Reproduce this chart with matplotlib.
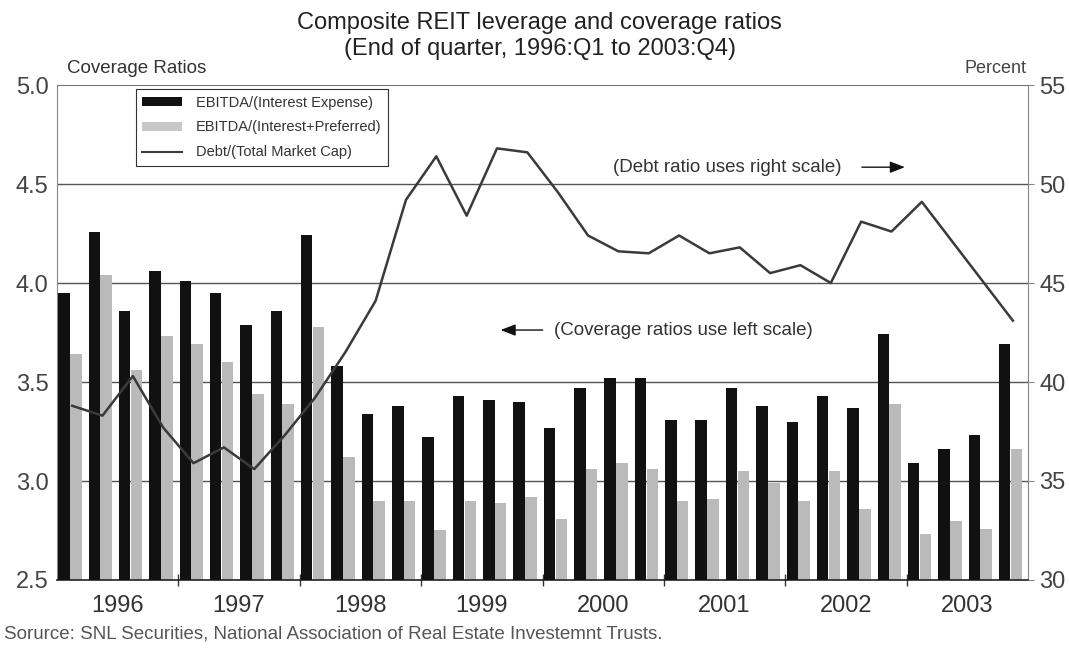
import matplotlib.pyplot as plt
from matplotlib.patches import Patch
from matplotlib.lines import Line2D
import numpy as np

plt.rcParams['font.family'] = ['Liberation Sans', 'DejaVu Sans']

# quarterly data, 1996:Q1 .. 2003:Q4
years = ['1996', '1997', '1998', '1999', '2000', '2001', '2002', '2003']
ebitda_interest = [3.95, 4.26, 3.86, 4.06, 4.01, 3.95, 3.79, 3.86,
                   4.24, 3.58, 3.34, 3.38, 3.22, 3.43, 3.41, 3.40,
                   3.27, 3.47, 3.52, 3.52, 3.31, 3.31, 3.47, 3.38,
                   3.30, 3.43, 3.37, 3.74, 3.09, 3.16, 3.23, 3.69]
ebitda_int_pref = [3.64, 4.04, 3.56, 3.73, 3.69, 3.60, 3.44, 3.39,
                   3.78, 3.12, 2.90, 2.90, 2.75, 2.90, 2.89, 2.92,
                   2.81, 3.06, 3.09, 3.06, 2.90, 2.91, 3.05, 2.99,
                   2.90, 3.05, 2.86, 3.39, 2.73, 2.80, 2.76, 3.16]
debt_to_mcap = [38.8, 38.3, 40.3, 37.7, 35.9, 36.7, 35.6, 37.3,
                39.2, 41.5, 44.1, 49.2, 51.4, 48.4, 51.8, 51.6,
                49.6, 47.4, 46.6, 46.5, 47.4, 46.5, 46.8, 45.5,
                45.9, 45.0, 48.1, 47.6, 49.1, 47.1, 45.1, 43.1]

n = len(ebitda_interest)
q = np.arange(n)

fig = plt.figure(figsize=(10.69, 6.5), dpi=100)
ax = fig.add_axes([0.0533, 0.1077, 0.9084, 0.7615])

# bars
ax.bar(q + 0.23, ebitda_interest, width=0.38, color='#111111', zorder=3)
ax.bar(q + 0.62, ebitda_int_pref, width=0.38, color='#bababa', zorder=2)

ax.set_xlim(0, n)
ax.set_ylim(2.5, 5.0)
ax.set_yticks([2.5, 3.0, 3.5, 4.0, 4.5, 5.0])
ax.set_yticklabels(['2.5', '3.0', '3.5', '4.0', '4.5', '5.0'])

# gridlines
for yv in [3.0, 3.5, 4.0, 4.5]:
    ax.axhline(yv, color='#555555', lw=1.0, zorder=1)

# year ticks at boundaries, labels centered in each year
ax.set_xticks(np.arange(4, n, 4))
ax.set_xticklabels([])
ax.set_xticks(np.arange(2, n, 4), minor=True)
ax.set_xticklabels(years, minor=True)
ax.tick_params(axis='x', which='major', direction='inout', length=8, width=1, color='#333333')
ax.tick_params(axis='x', which='minor', length=0, pad=11, labelsize=17, labelcolor='#333333')
ax.tick_params(axis='y', length=0, pad=6, labelsize=17, labelcolor='#444444')

for side in ['left', 'right']:
    ax.spines[side].set_color('#888888')
    ax.spines[side].set_linewidth(0.8)
ax.spines['top'].set_color('#777777')
ax.spines['bottom'].set_color('#222222')
ax.spines['bottom'].set_linewidth(1.2)

# debt ratio on right scale
ax2 = ax.twinx()
ax2.plot(q + 0.5, debt_to_mcap, color='#3a3a3a', lw=1.8, zorder=4)
ax2.set_ylim(30, 55)
ax2.set_yticks([30, 35, 40, 45, 50, 55])
ax2.tick_params(axis='y', direction='out', length=4, color='#888888', pad=4,
                labelsize=17, labelcolor='#444444')
for s in ax2.spines.values():
    s.set_visible(False)

# axis captions
fig.text(0.063, 0.882, 'Coverage Ratios', fontsize=13.5, color='#333333', ha='left', va='bottom')
fig.text(0.960, 0.882, 'Percent', fontsize=13, color='#444444', ha='right', va='bottom')

# title
fig.text(0.505, 0.964, 'Composite REIT leverage and coverage ratios',
         fontsize=17, color='#222222', ha='center', va='center')
fig.text(0.505, 0.924, '(End of quarter, 1996:Q1 to 2003:Q4)',
         fontsize=17, color='#222222', ha='center', va='center')

# legend
handles = [Patch(facecolor='#111111', edgecolor='none'),
           Patch(facecolor='#c8c8c8', edgecolor='none'),
           Line2D([0], [0], color='#3a3a3a', lw=1.5)]
labels = ['EBITDA/(Interest Expense)', 'EBITDA/(Interest+Preferred)', 'Debt/(Total Market Cap)']
leg = ax2.legend(handles, labels, loc='upper left', bbox_to_anchor=(0.081, 0.992),
                 borderaxespad=0, fontsize=10.5, frameon=True, fancybox=False, framealpha=1,
                 edgecolor='#333333', handlelength=2.7, handleheight=0.6,
                 labelspacing=0.75, borderpad=0.45, handletextpad=1.0)
leg.get_frame().set_linewidth(0.8)
for t in leg.get_texts():
    t.set_color('#333333')

# annotations
ax2.text(0.573, 0.834, '(Debt ratio uses right scale)', transform=ax.transAxes,
         fontsize=13.5, color='#333333', ha='left', va='center')
ax2.annotate('', xy=(0.876, 0.834), xytext=(0.826, 0.834), xycoords=ax.transAxes,
             textcoords=ax.transAxes,
             arrowprops=dict(arrowstyle='-|>,head_length=0.9,head_width=0.35',
                             color='#111111', lw=1.0))
ax2.text(0.512, 0.505, '(Coverage ratios use left scale)', transform=ax.transAxes,
         fontsize=13.5, color='#333333', ha='left', va='center')
ax2.annotate('', xy=(0.454, 0.505), xytext=(0.503, 0.505), xycoords=ax.transAxes,
             textcoords=ax.transAxes,
             arrowprops=dict(arrowstyle='-|>,head_length=0.9,head_width=0.35',
                             color='#111111', lw=1.0))

# source note
fig.text(0.004, 0.024, 'Sorurce: SNL Securities, National Association of Real Estate Investemnt Trusts.',
         fontsize=13.5, color='#555555', ha='left', va='center')

fig.savefig('out.png', dpi=100)
